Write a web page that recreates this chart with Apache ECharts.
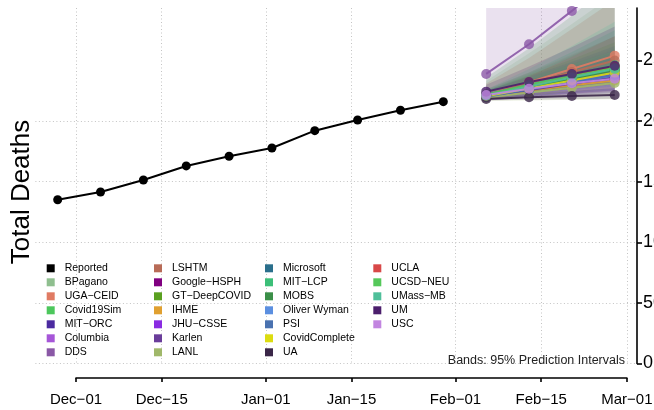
<!DOCTYPE html>
<html><head><meta charset="utf-8">
<script src="https://cdn.jsdelivr.net/npm/echarts@6/dist/echarts.min.js"></script>
<style>html,body{margin:0;padding:0;background:#fff}#c{width:654px;height:410px}</style>
</head><body><div id="c"></div>
<script>
// ---------- data ----------
const reportedDates = ['2020-11-28','2020-12-05','2020-12-12','2020-12-19','2020-12-26','2021-01-02','2021-01-09','2021-01-16','2021-01-23','2021-01-30'];
const reportedDeaths = [13510, 14150, 15140, 16300, 17100, 17780, 19210, 20090, 20890, 21600];

const forecastDates = ['2021-02-06','2021-02-13','2021-02-20','2021-02-27'];

const models = ['BPagano','UGA−CEID','Covid19Sim','MIT−ORC','Columbia','DDS',
  'LSHTM','Google−HSPH','GT−DeepCOVID','IHME','JHU−CSSE','Karlen','LANL',
  'Microsoft','MIT−LCP','MOBS','Oliver Wyman','PSI','CovidComplete','UA',
  'UCLA','UCSD−NEU','UMass−MB','UM','USC'];

const modelColors = ['#8fbf8f','#e07b63','#4cc75c','#4b2aa0','#a656d8','#8a58a6',
  '#b86b57','#800080','#5aa020','#e0a030','#8a2be2','#6a3d9a','#a0b86a',
  '#2a6f8c','#3cbf78','#3b8f48','#5b8fe0','#4a72b0','#dcdc10','#3a2648',
  '#d84848','#55c85a','#4fbf9a','#4b1e6c','#c285e0'];

const forecastMedian = [
  [22050,22600,23150,23700],[22150,23200,24300,25400],[22100,22850,23600,24350],[22000,22500,23000,23450],
  [22050,22700,23350,24000],[23890,26340,29090,32000],[22200,23100,24050,25000],[22000,22550,23100,23650],
  [22100,22800,23500,24200],[22000,22500,22950,23350],[22050,22650,23250,23800],[22000,22550,23100,23600],
  [21950,22350,22750,23150],[22100,22750,23400,24050],[22200,23000,23800,24600],[22100,22800,23500,24250],
  [22050,22650,23200,23750],[22000,22600,23200,23800],[22050,22700,23350,24000],[21820,21960,22070,22150],
  [22100,22900,23700,24500],[22150,22950,23700,24400],[22100,22850,23600,24300],[22430,23230,23890,24570],
  [22150,22670,23120,23500]];

const forecastLower = [
  [21750,21950,22150,22300],[21800,22300,22800,23300],[21850,22200,22600,23000],[21800,22000,22200,22400],
  [21800,22050,22300,22500],[21900,22400,22900,23400],[21800,22200,22600,23000],[21750,22000,22250,22500],
  [21800,22100,22400,22700],[21850,22150,22450,22700],[21700,21900,22100,22300],[21850,22200,22550,22850],
  [21650,21700,21750,21800],[21900,22300,22700,23100],[21850,22300,22700,23100],[21900,22350,22800,23250],
  [21850,22200,22550,22900],[21800,22050,22300,22550],[21850,22250,22650,23050],[21700,21750,21800,21850],
  [21850,22250,22650,23050],[21900,22350,22800,23200],[21850,22250,22700,23100],[21900,22300,22700,23100],
  [21900,22200,22450,22700]];

const forecastUpper = [
  [23300,25600,28000,30500],[22600,24000,25500,27000],[22500,23900,25400,27000],[22250,23000,23800,24600],
  [22350,23400,24500,25700],[30000,33000,37000,41000],[23100,25200,27600,30000],[22300,23200,24100,25000],
  [22500,23800,25100,26500],[22150,22850,23500,24100],[22500,23600,24700,25900],[22150,22900,23650,24400],
  [22400,23500,24700,26000],[22500,23700,24900,26200],[22600,24000,25700,27500],[23600,26000,28700,31500],
  [22300,23150,24000,24850],[22250,23200,24200,25200],[22300,23200,24100,25000],[22000,22300,22500,22700],
  [22400,23700,25300,27000],[22450,23600,24700,25800],[22600,24300,26200,28200],[23000,24500,26100,27800],
  [22400,23150,23800,24400]];

const xTickDates = ['2020-12-01','2020-12-15','2021-01-01','2021-01-15','2021-02-01','2021-02-15','2021-03-01'];
const yTicks = [0, 5000, 10000, 15000, 20000, 25000];

const legendColumns = [
  ['Reported','BPagano','UGA−CEID','Covid19Sim','MIT−ORC','Columbia','DDS'],
  ['LSHTM','Google−HSPH','GT−DeepCOVID','IHME','JHU−CSSE','Karlen','LANL'],
  ['Microsoft','MIT−LCP','MOBS','Oliver Wyman','PSI','CovidComplete','UA'],
  ['UCLA','UCSD−NEU','UMass−MB','UM','USC']];

// ---------- build ----------
const DAY = 86400000;
const ts = s => { const p = s.split('-').map(Number); return Date.UTC(p[0], p[1]-1, p[2]); };
const MON = ['Jan','Feb','Mar','Apr','May','Jun','Jul','Aug','Sep','Oct','Nov','Dec'];
const fmtDate = v => { const d = new Date(v); return MON[d.getUTCMonth()] + '−' + String(d.getUTCDate()).padStart(2,'0'); };
const FONT = "'Liberation Sans', Arial, Helvetica, sans-serif";

const xTicks = xTickDates.map(ts);
const fTs = forecastDates.map(ts);
const colorOf = {Reported: '#000000'};
models.forEach((m,i) => colorOf[m] = modelColors[i]);

const xMin = ts('2020-12-01') - 6.64 * DAY;
const xMax = ts('2021-03-01') + 1.64 * DAY;
const Y_MAX = 29330;

function bandRender(params, api) {
  if (params.dataIndexInside !== 0) return null;
  const n = params.dataInsideLength;
  const up = [], lo = [];
  for (let k = 0; k < n; k++) {
    up.push(api.coord([api.value(0, k), api.value(2, k)]));
    lo.push(api.coord([api.value(0, k), api.value(1, k)]));
  }
  const pts = up.concat(lo.reverse());
  const cs = params.coordSys;
  return {
    type: 'polygon',
    shape: {points: pts},
    style: {fill: api.visual('color'), opacity: 0.18},
    clipPath: {type: 'rect', shape: {x: cs.x, y: cs.y, width: cs.width, height: cs.height}},
    silent: true
  };
}

// right-axis tick labels, placed through the axis scale
function yLabelRender(params, api) {
  const p = api.coord([api.value(0), api.value(1)]);
  return {
    type: 'text', x: p[0] + 6, y: p[1], silent: true,
    style: {text: String(api.value(1)), font: '18px ' + FONT, fill: '#000', align: 'left', verticalAlign: 'middle'}
  };
}

const series = [];
models.forEach((m, i) => {
  series.push({
    name: '_band_' + m, type: 'custom', xAxisIndex: 0, yAxisIndex: 0,
    renderItem: bandRender, itemStyle: {color: modelColors[i]},
    data: fTs.map((t, k) => [t, forecastLower[i][k], forecastUpper[i][k]]),
    encode: {x: 0, y: [1, 2]}, z: 1, silent: true
  });
});
series.push({
  name: 'Reported', type: 'line', xAxisIndex: 0, yAxisIndex: 0,
  data: reportedDates.map((d, k) => [ts(d), reportedDeaths[k]]),
  symbol: 'circle', symbolSize: 9, color: '#000',
  lineStyle: {color: '#000', width: 2}, itemStyle: {color: '#000'}, z: 3
});
models.forEach((m, i) => {
  series.push({
    name: m, type: 'line', xAxisIndex: 0, yAxisIndex: 0,
    data: fTs.map((t, k) => [t, forecastMedian[i][k]]),
    symbol: 'circle', symbolSize: 10, color: modelColors[i],
    lineStyle: {color: modelColors[i], width: 2, opacity: 0.9},
    itemStyle: {color: modelColors[i], opacity: 0.8}, z: 2
  });
});
series.push({
  name: '_ylabels', type: 'custom', xAxisIndex: 0, yAxisIndex: 0,
  data: yTicks.map(v => [xMax, v]), encode: {x: 0, y: 1},
  renderItem: yLabelRender, clip: false, silent: true, z: 5
});

const legends = legendColumns.map((col, c) => ({
  orient: 'vertical', left: [46.7, 154, 265, 373.3][c], top: 261.3, padding: 0,
  itemWidth: 8, itemHeight: 8, itemGap: 0, icon: 'rect', selectedMode: false,
  textStyle: {fontSize: 10.5, fontFamily: FONT, color: '#000', lineHeight: 14, padding: [0,0,0,5]},
  data: col.map(n => ({name: n, icon: 'rect', itemStyle: {color: colorOf[n], opacity: 1, borderWidth: 0}}))
}));

const gridLine = {show: true, lineStyle: {color: '#c4c4c4', type: [1, 2.5], width: 1}};

const option = {
  animation: false,
  backgroundColor: '#fff',
  textStyle: {fontFamily: FONT},
  title: {
    text: 'Bands: 95% Prediction Intervals', right: 29, top: 354.5, padding: 0,
    textStyle: {fontSize: 12.5, fontWeight: 'normal', color: '#222', fontFamily: FONT}
  },
  legend: legends,
  grid: [
    {left: 35.4, right: 17, top: 8, bottom: 46.5, containLabel: false, outerBoundsMode: 'none'},
    {left: 76, right: 27.1, top: 370, height: 8, containLabel: false, outerBoundsMode: 'none'}
  ],
  xAxis: [
    {type: 'value', gridIndex: 0, min: xMin, max: xMax, scale: true,
     axisLine: {show: false}, axisTick: {show: false, customValues: xTicks},
     axisLabel: {show: false, customValues: xTicks}, splitLine: gridLine},
    {type: 'value', gridIndex: 1, min: ts('2020-12-01'), max: ts('2021-03-01'), position: 'bottom', scale: true,
     axisLine: {show: true, lineStyle: {color: '#000', width: 1.6}},
     axisTick: {show: true, length: 4, lineStyle: {color: '#000', width: 1.6}, customValues: xTicks},
     axisLabel: {show: true, customValues: xTicks, formatter: fmtDate, fontSize: 15, color: '#000', fontFamily: FONT, margin: 14,
                 hideOverlap: false, showMinLabel: true, showMaxLabel: true},
     splitLine: {show: false}}
  ],
  yAxis: [
    {type: 'value', gridIndex: 0, position: 'right', min: 0, max: Y_MAX,
     axisLine: {show: true, lineStyle: {color: '#000', width: 1.6}},
     axisTick: {show: true, length: 5, lineStyle: {color: '#000', width: 1.6}, customValues: yTicks},
     axisLabel: {show: false, customValues: yTicks},
     splitLine: Object.assign({showMaxLine: false}, gridLine)},
    {type: 'value', gridIndex: 1, show: false}
  ],
  graphic: [{
    type: 'text', x: 22, y: 192, rotation: Math.PI / 2,
    style: {text: 'Total Deaths', font: '26px ' + FONT, fill: '#000', align: 'center', verticalAlign: 'middle'}
  }],
  series: series
};

const chart = echarts.init(document.getElementById('c'), null, {renderer: 'canvas'});
chart.setOption(option);
</script>
</body></html>
